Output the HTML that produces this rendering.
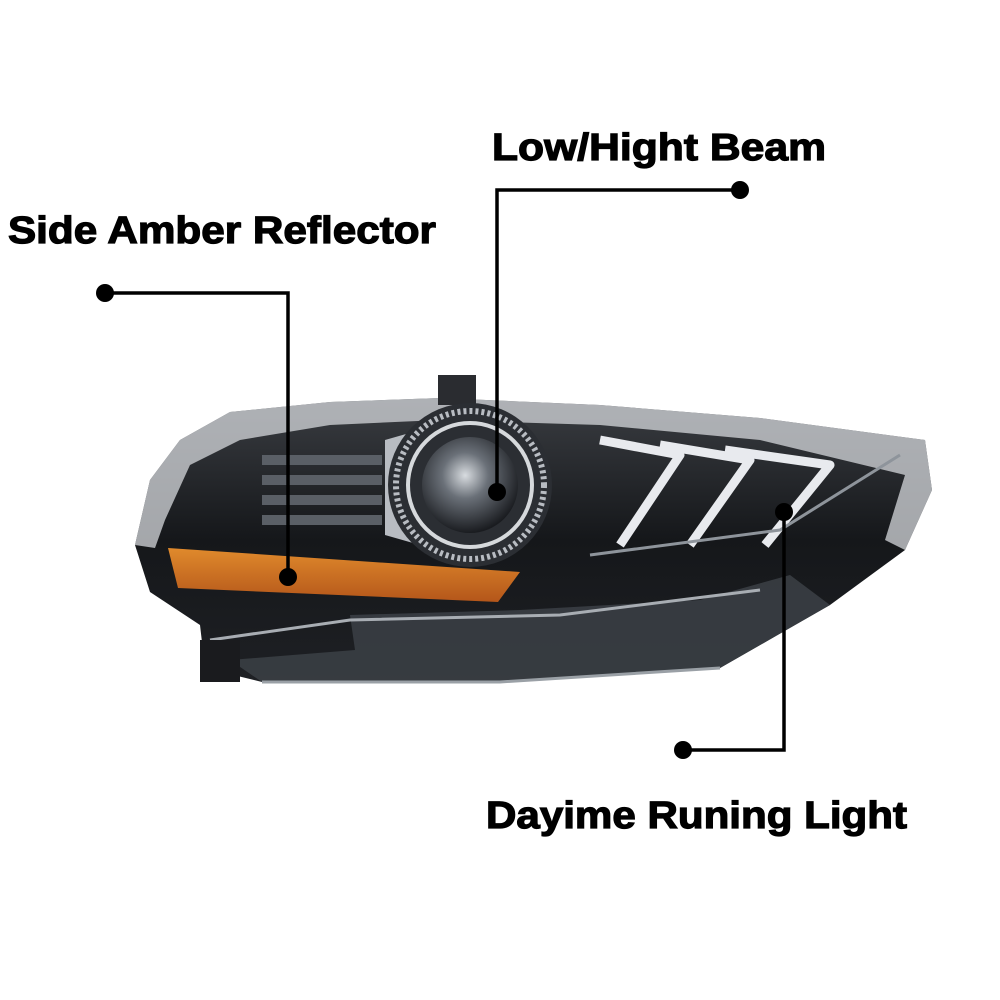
<!DOCTYPE html>
<html><head><meta charset="utf-8"><style>
html,body{margin:0;padding:0;background:#fff;}
svg{display:block}
text{font-family:"Liberation Sans",sans-serif;font-weight:bold;fill:#000;stroke:#000;stroke-width:1.2px}
</style></head><body>
<svg width="1000" height="1000" viewBox="0 0 1000 1000" xmlns="http://www.w3.org/2000/svg">
<defs>
<linearGradient id="body" x1="0" y1="0" x2="0" y2="1">
<stop offset="0" stop-color="#3a3d42"/><stop offset="0.5" stop-color="#15171a"/><stop offset="1" stop-color="#1e2024"/>
</linearGradient>
<radialGradient id="lens" cx="0.45" cy="0.4" r="0.6">
<stop offset="0" stop-color="#d8dce0"/><stop offset="0.4" stop-color="#6a7078"/><stop offset="1" stop-color="#1a1c20"/>
</radialGradient>
<linearGradient id="amb" x1="0" y1="0" x2="0" y2="1">
<stop offset="0" stop-color="#e08a2c"/><stop offset="1" stop-color="#b4561a"/>
</linearGradient>
</defs>
<!-- headlight body -->
<polygon points="135,545 150,480 180,440 230,412 330,402 440,398 600,405 760,418 925,440 932,490 905,550 830,605 720,668 500,682 262,682 205,668 200,625 150,592" fill="url(#body)"/>
<!-- clear lens edges -->
<polygon points="135,545 150,480 180,440 230,412 330,402 440,398 600,405 760,418 925,440 932,490 905,550 885,540 905,475 760,440 600,425 440,420 330,425 240,440 190,465 165,520 155,548" fill="#d5d8dc" opacity="0.75"/>
<!-- lower clear area -->
<polygon points="350,615 520,610 700,600 790,575 830,605 720,668 500,682 262,682 230,660 355,650" fill="#3a3e44" opacity="0.9"/>
<polyline points="210,640 350,620 560,615 760,590" fill="none" stroke="#a8adb3" stroke-width="3"/>
<polyline points="262,682 500,682 720,668" fill="none" stroke="#9aa0a6" stroke-width="3"/>
<!-- mount tab -->
<rect x="438" y="375" width="38" height="30" fill="#2a2c30"/>
<rect x="200" y="640" width="40" height="42" fill="#1a1b1e"/>
<!-- fins -->
<g fill="#5a5f66"><rect x="262" y="455" width="120" height="10"/><rect x="262" y="475" width="120" height="10"/><rect x="262" y="495" width="120" height="10"/><rect x="262" y="515" width="120" height="10"/></g>
<!-- projector -->
<path d="M385,440 L420,430 L420,545 L385,535 Z" fill="#b8bcc2"/>
<circle cx="470" cy="485" r="82" fill="#2b2e33"/>
<circle cx="470" cy="485" r="74" fill="none" stroke="#b8bcc2" stroke-width="6" stroke-dasharray="3 3"/>
<circle cx="470" cy="485" r="62" fill="none" stroke="#d6d9dc" stroke-width="4"/>
<circle cx="470" cy="485" r="48" fill="url(#lens)"/>
<!-- DRL chevrons -->
<g fill="none" stroke="#e8eaee" stroke-width="9" stroke-linejoin="round">
<polyline points="600,440 680,455 620,545"/>
<polyline points="660,445 750,460 690,545"/>
<polyline points="725,450 830,465 765,545"/>
</g>
<g fill="none" stroke="#8e949b" stroke-width="3"><polyline points="590,555 780,530 900,455"/></g>
<!-- amber reflector -->
<polygon points="168,548 520,572 498,602 178,588" fill="url(#amb)"/>
<!-- lines -->
<g stroke="#000" stroke-width="3.5" fill="none">
<polyline points="740,190 497,190 497,492"/>
<polyline points="105,293 288,293 288,577"/>
<polyline points="784,512 784,750 683,750"/>
</g>
<g fill="#000">
<circle cx="740" cy="190" r="9"/><circle cx="497" cy="492" r="9"/>
<circle cx="105" cy="293" r="9"/><circle cx="288" cy="577" r="9"/>
<circle cx="784" cy="512" r="9"/><circle cx="683" cy="750" r="9"/>
</g>
<!-- labels -->
<text x="492" y="160" font-size="38" textLength="334" lengthAdjust="spacingAndGlyphs">Low/Hight Beam</text>
<text x="8" y="243" font-size="38" textLength="428" lengthAdjust="spacingAndGlyphs">Side Amber Reflector</text>
<text x="486" y="828" font-size="38" textLength="421" lengthAdjust="spacingAndGlyphs">Dayime Runing Light</text>
</svg>
</body></html>
